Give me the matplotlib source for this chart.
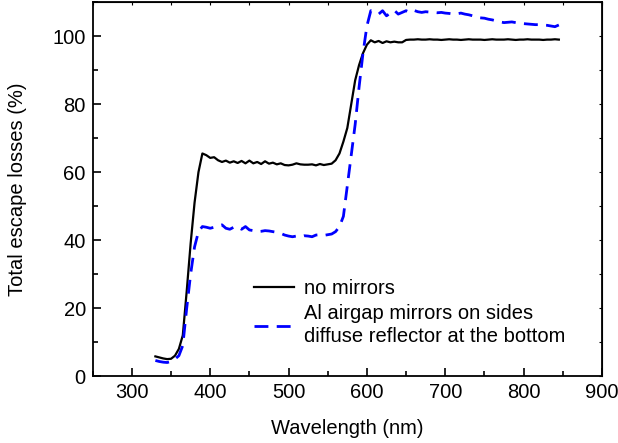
import matplotlib
matplotlib.use('Agg')
import matplotlib.pyplot as plt
from matplotlib.ticker import MultipleLocator

plt.rcParams['font.family'] = ['Liberation Sans', 'DejaVu Sans']

# wavelength grid (nm), 5 nm steps
wavelength = [330, 335, 340, 345, 350, 355, 360, 365, 370, 375,
              380, 385, 390, 395, 400, 405, 410, 415, 420, 425,
              430, 435, 440, 445, 450, 455, 460, 465, 470, 475,
              480, 485, 490, 495, 500, 505, 510, 515, 520, 525,
              530, 535, 540, 545, 550, 555, 560, 565, 570, 575,
              580, 585, 590, 595, 600, 605, 610, 615, 620, 625,
              630, 635, 640, 645, 650, 655, 660, 665, 670, 675,
              680, 685, 690, 695, 700, 705, 710, 715, 720, 725,
              730, 735, 740, 745, 750, 755, 760, 765, 770, 775,
              780, 785, 790, 795, 800, 805, 810, 815, 820, 825,
              830, 835, 840, 845]

# total escape losses (%) without mirrors
no_mirrors = [5.8, 5.5, 5.2, 5.0, 5.1, 6.0, 8.0, 12.0, 25.0, 39.0,
              51.0, 60.0, 65.5, 65.0, 64.2, 64.4, 63.5, 63.0, 63.4, 62.8,
              63.2, 62.7, 63.3, 62.6, 63.4, 62.6, 63.0, 62.4, 63.2, 62.5,
              62.8, 62.3, 62.6, 62.1, 62.0, 62.2, 62.6, 62.3, 62.2, 62.2,
              62.3, 62.0, 62.4, 62.1, 62.3, 62.5, 63.5, 65.5, 69.0, 73.0,
              80.0, 87.0, 91.5, 95.0, 97.5, 98.8, 98.2, 98.6, 98.0, 98.5,
              98.2, 98.4, 98.2, 98.2, 98.9, 99.0, 99.0, 99.1, 99.0, 99.0,
              99.1, 99.0, 99.0, 98.9, 99.0, 99.1, 99.0, 99.0, 98.9, 99.0,
              99.1, 99.0, 99.0, 99.0, 98.9, 99.0, 99.1, 99.0, 99.0, 99.0,
              99.1, 99.0, 98.9, 99.0, 99.0, 99.1, 99.0, 99.0, 99.0, 98.9,
              99.0, 99.0, 99.1, 99.0]

# total escape losses (%) with Al airgap mirrors + diffuse bottom reflector
with_mirrors = [4.6, 4.3, 4.1, 4.0, 4.3, 5.0, 6.0, 9.0, 20.0, 30.0,
                38.0, 42.5, 44.0, 43.8, 43.5, 43.8, 44.2, 44.5, 43.5, 43.2,
                43.8, 44.0, 43.2, 44.0, 43.0, 42.8, 42.5, 42.6, 42.8, 42.7,
                42.5, 42.3, 42.0, 41.5, 41.2, 41.0, 41.2, 41.0, 41.3, 41.2,
                41.0, 41.5, 41.6, 41.4, 41.6, 41.8, 42.5, 44.0, 47.0, 56.0,
                65.0, 74.0, 85.0, 95.0, 103.0, 107.5, 107.0, 106.5, 107.5, 106.0,
                106.8, 107.6, 106.5, 107.0, 107.5, 107.0, 107.6, 107.2, 107.0, 107.2,
                107.1, 107.0, 106.9, 107.0, 106.8, 106.7, 106.5, 106.6, 106.8, 106.5,
                106.3, 106.0, 105.5, 105.4, 105.3, 105.0, 104.8, 104.5, 104.2, 104.0,
                104.1, 104.2, 104.0, 103.8, 103.7, 103.6, 103.5, 103.4, 103.4, 103.3,
                103.2, 103.0, 102.8, 103.3]

FS = 14.5

fig = plt.figure(figsize=(6.18, 4.43), dpi=100)
ax = fig.add_axes([0.150, 0.151, 0.824, 0.844])

ax.plot(wavelength, no_mirrors, color='black', lw=1.6, label='no mirrors')
ax.plot(wavelength, with_mirrors, color='blue', lw=2.0, dashes=(5, 3),
        label='Al airgap mirrors on sides\ndiffuse reflector at the bottom')

ax.set_xlim(250, 900)
ax.set_ylim(0, 110)
ax.xaxis.set_major_locator(MultipleLocator(100))
ax.xaxis.set_minor_locator(MultipleLocator(50))
ax.yaxis.set_major_locator(MultipleLocator(20))
ax.yaxis.set_minor_locator(MultipleLocator(10))
ax.tick_params(which='both', direction='in', labelsize=FS, width=1.2)
ax.tick_params(which='major', length=6, pad=5)
ax.tick_params(which='minor', length=3.5)
ax.set_xticks([300, 400, 500, 600, 700, 800, 900])
for s in ax.spines.values():
    s.set_linewidth(1.3)

# short unlabeled ticks on the top and right frame
top = ax.secondary_xaxis('top')
top.xaxis.set_major_locator(MultipleLocator(50))
top.tick_params(direction='in', length=2.5, width=0.8, labeltop=False)
right = ax.secondary_yaxis('right')
right.yaxis.set_major_locator(MultipleLocator(10))
right.tick_params(direction='in', length=2.5, width=0.8, labelright=False)

ax.set_xlabel('Wavelength (nm)', fontsize=FS, labelpad=12)
ax.set_ylabel('Total escape losses (%)', fontsize=FS, labelpad=18)

leg = ax.legend(loc='lower left', bbox_to_anchor=(0.30, 0.058), frameon=False,
                fontsize=FS, handlelength=2.0, handletextpad=0.5,
                labelspacing=0.3, borderaxespad=0)
for t in leg.get_texts():
    t.set_linespacing(1.3)

fig.savefig('out.png', dpi=100)
